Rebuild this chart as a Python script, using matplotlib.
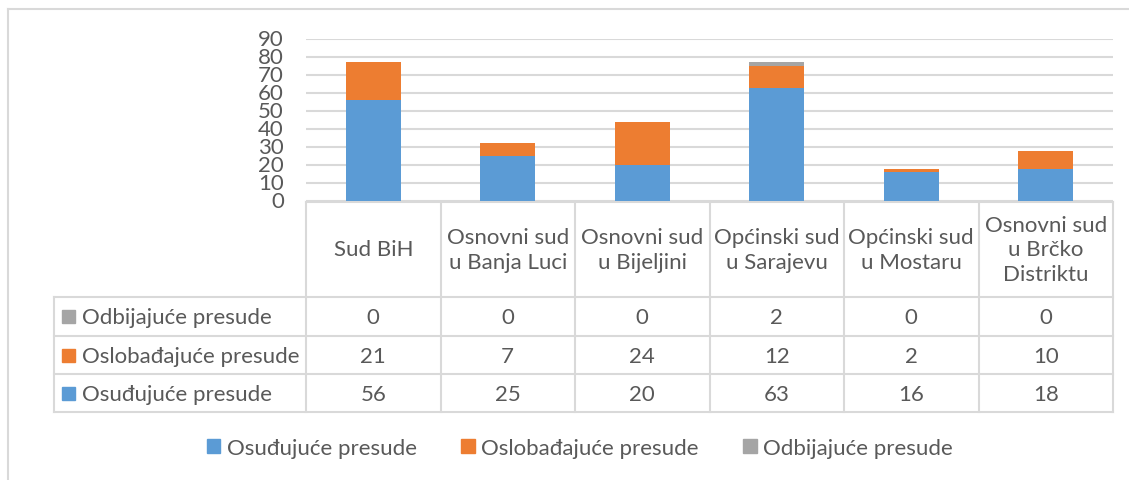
import matplotlib
matplotlib.use("Agg")
import matplotlib.pyplot as plt
import matplotlib.transforms as mtransforms
from matplotlib.patches import Rectangle

plt.rcParams['font.family'] = ['Lato', 'DejaVu Sans']

categories = ["Sud BiH", "Osnovni sud\nu Banja Luci", "Osnovni sud\nu Bijeljini",
              "Općinski sud\nu Sarajevu", "Općinski sud\nu Mostaru",
              "Osnovni sud\nu Brčko\nDistriktu"]
series_names = ["Osuđujuće presude", "Oslobađajuće presude", "Odbijajuće presude"]
osudjujuce = [56, 25, 20, 63, 16, 18]
oslobadjajuce = [21, 7, 24, 12, 2, 10]
odbijajuce = [0, 0, 0, 2, 0, 0]
yticks = [0, 10, 20, 30, 40, 50, 60, 70, 80, 90]

colors = ["#5B9BD5", "#ED7D31", "#A5A5A5"]
text_color = "#595959"
grid_color = "#D9D9D9"
FS = 16

W, H = 1129, 481
fig = plt.figure(figsize=(W / 100, H / 100), dpi=100)

# overlay axes in pixel coordinates (y downward)
ov = fig.add_axes([0, 0, 1, 1])
ov.set_xlim(0, W)
ov.set_ylim(H, 0)
ov.axis("off")

# plot axes
x0, x1 = 306, 1113
ytop, ybot = 40, 202
ax = fig.add_axes([x0 / W, (H - ybot) / H, (x1 - x0) / W, (ybot - ytop) / H])
ax.set_zorder(2)
ax.patch.set_alpha(0)
n = len(categories)
xs = list(range(n))
bw = 0.41
series = [osudjujuce, oslobadjajuce, odbijajuce]
bottom = [0] * n
for vals, col, name in zip(series, colors, series_names):
    ax.bar(xs, vals, bw, bottom=bottom, color=col, label=name, zorder=3)
    bottom = [b + v for b, v in zip(bottom, vals)]
ax.set_xlim(-0.5, n - 0.5)
ax.set_ylim(0, 90)
ax.set_yticks(yticks)
ax.set_yticklabels([str(t) for t in yticks], fontsize=FS, color=text_color)
ax.tick_params(axis="y", length=0, pad=16)
ax.set_xticks([])
for s in ax.spines.values():
    s.set_visible(False)
ax.yaxis.grid(True, color=grid_color, linewidth=1.5, zorder=0)
for lab in ax.get_yticklabels():
    lab.set_verticalalignment("center")

# blended transform: x from data, y from pixels
bt = mtransforms.blended_transform_factory(ax.transData, ov.transData)

# chart border
ov.plot([8, W], [10, 10], color=grid_color, lw=1.5)
ov.plot([8, 8], [10, H], color=grid_color, lw=1.5)

# table geometry
y_head_top, y_head_bot = 203, 298
row_edges = [298, 337, 375, 413]
lab_left = 54
lw_t = 1.5
# horizontal lines
ov.plot([x0, x1], [y_head_top, y_head_top], color=grid_color, lw=lw_t)
for y in row_edges:
    ov.plot([lab_left, x1], [y, y], color=grid_color, lw=lw_t)
# vertical lines
for i in range(n + 1):
    ax_x = i - 0.5
    ov.plot([ax_x, ax_x], [y_head_top, row_edges[-1]], color=grid_color, lw=lw_t,
            transform=bt)
ov.plot([lab_left, lab_left], [row_edges[0], row_edges[-1]], color=grid_color, lw=lw_t)

# header texts
for i, c in enumerate(categories):
    ov.text(i, (y_head_top + y_head_bot) / 2, c, transform=bt, ha="center",
            va="center", fontsize=FS, color=text_color, linespacing=1.3)

# table rows (top row = last series)
row_series = list(zip(series, colors, series_names))[::-1]
for r, (vals, col, name) in enumerate(row_series):
    yc = (row_edges[r] + row_edges[r + 1]) / 2
    ov.add_patch(Rectangle((62, yc - 6.5), 13, 13, color=col))
    ov.text(82, yc + 1, name, ha="left", va="center", fontsize=FS, color=text_color)
    for i, v in enumerate(vals):
        ov.text(i, yc + 1, str(v), transform=bt, ha="center", va="center",
                fontsize=FS, color=text_color)

# legend
handles = [Rectangle((0, 0), 1, 1, color=c) for c in colors]
leg = fig.legend(handles, series_names, loc="center", bbox_to_anchor=(580 / W, (H - 449) / H),
                 ncol=3, frameon=False, fontsize=FS, labelcolor=text_color,
                 handlelength=0.6, handleheight=0.6, handletextpad=0.3,
                 columnspacing=2.0)

fig.savefig("out.png", dpi=100)
